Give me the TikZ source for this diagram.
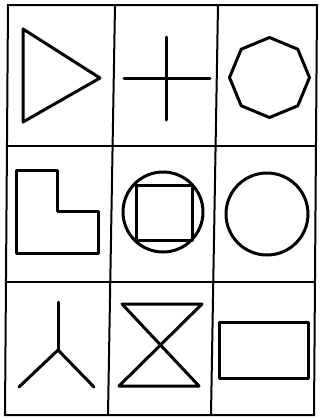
\documentclass[tikz,border=0pt]{standalone}
\begin{document}
\begin{tikzpicture}[x=1pt,y=-1pt,
  gridline/.style={line width=2pt,line cap=round},
  figline/.style={line width=3pt,line join=round,line cap=round}]
\useasboundingbox (0,0) rectangle (320,418);
% grid
\coordinate (tl) at (8,5); \coordinate (tr) at (317,5);
\coordinate (bl) at (5,415); \coordinate (br) at (314,415);
\coordinate (c1t) at (115,5); \coordinate (c1b) at (108,415);
\coordinate (c2t) at (218,5); \coordinate (c2b) at (211,415);
\coordinate (r1l) at (7,146); \coordinate (r1r) at (316,146);
\coordinate (r2l) at (6,282); \coordinate (r2r) at (315,282);
\draw[gridline] (tl) -- (tr) -- (br) -- (bl) -- cycle;
\draw[gridline] (c1t) -- (c1b);
\draw[gridline] (c2t) -- (c2b);
\draw[gridline] (r1l) -- (r1r);
\draw[gridline] (r2l) -- (r2r);
% row 1: triangle
\draw[figline] (23,29) -- (100,78) -- (23,122) -- cycle;
% cross
\draw[figline] (124,78) -- (210,78);
\draw[figline] (166,37) -- (166,120);
% octagon
\draw[figline,shift={(269.5,77.5)}] (90:40) -- (135:40) -- (180:40) -- (225:40) -- (270:40) -- (315:40) -- (0:40) -- (45:40) -- cycle;
% row 2: L shape
\draw[figline] (16,170) -- (57,170) -- (57,211) -- (98,211) -- (98,253) -- (16,253) -- cycle;
% circle with square
\draw[figline] (163,212) circle[radius=40];
\draw[figline] (136,185) rectangle (192,240);
% circle
\draw[figline] (267,214) circle[radius=41];
% row 3: Y shape
\coordinate (yc) at (58,350);
\draw[figline] (58,302) -- (yc);
\draw[figline] (19,387) -- (yc) -- (94,387);
% hourglass
\draw[figline] (122,304) -- (202,304) -- (119,386) -- (199,386) -- cycle;
% rectangle
\draw[figline] (219,322) rectangle (308,378);
\end{tikzpicture}
\end{document}
